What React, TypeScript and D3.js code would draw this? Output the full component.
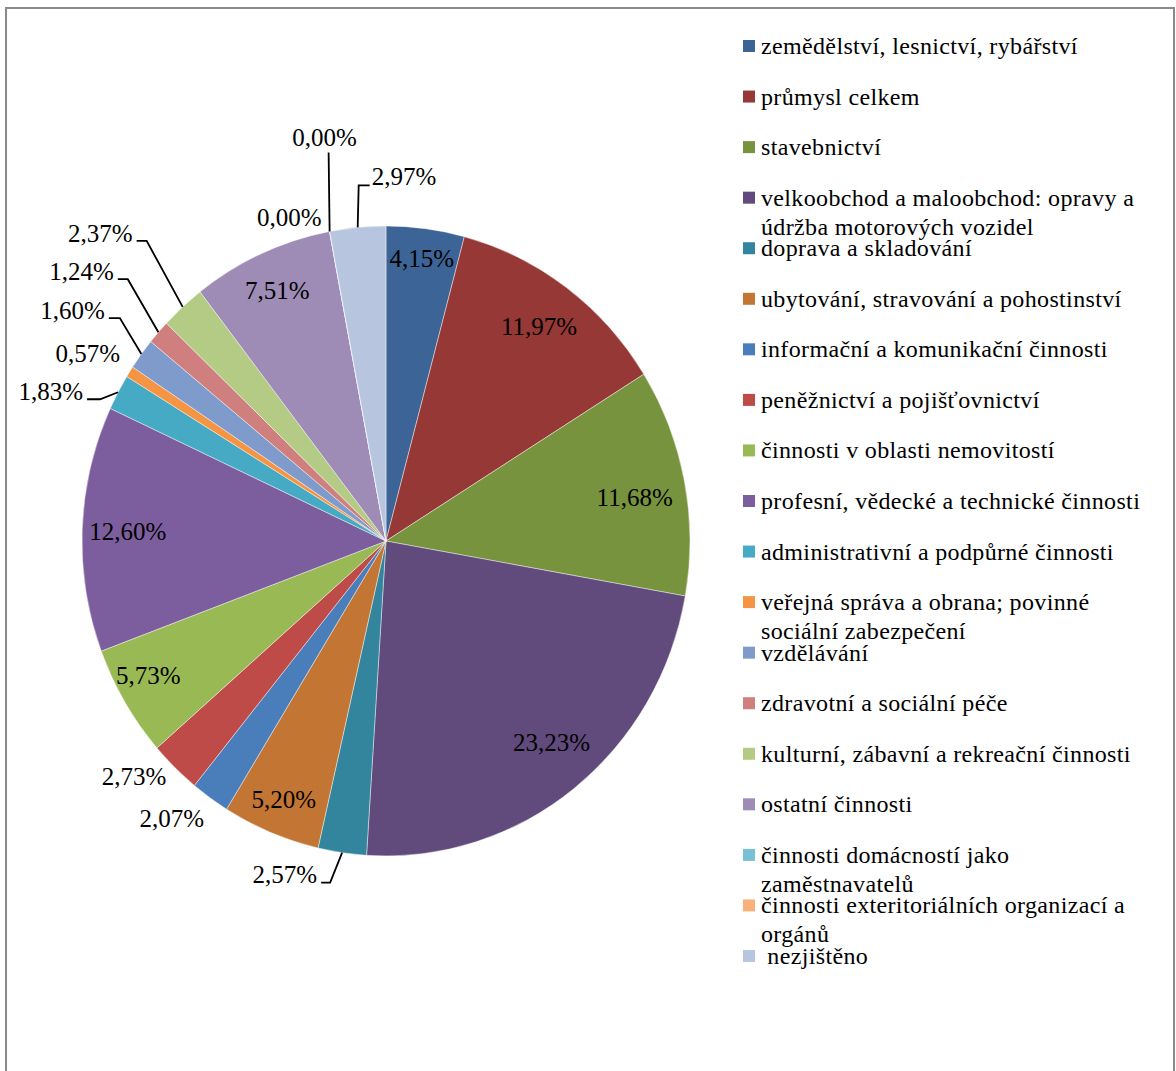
import React, {useRef, useEffect} from 'react'
import * as d3 from 'd3'

// categories, in the order the slices go round (clockwise from 12 o'clock)
const categories = [
  'zemědělství, lesnictví, rybářství',
  'průmysl celkem',
  'stavebnictví',
  'velkoobchod a maloobchod: opravy a\núdržba motorových vozidel',
  'doprava a skladování',
  'ubytování, stravování a pohostinství',
  'informační a komunikační činnosti',
  'peněžnictví a pojišťovnictví',
  'činnosti v oblasti nemovitostí',
  'profesní, vědecké a technické činnosti',
  'administrativní a podpůrné činnosti',
  'veřejná správa a obrana; povinné\nsociální zabezpečení',
  'vzdělávání',
  'zdravotní a sociální péče',
  'kulturní, zábavní a rekreační činnosti',
  'ostatní činnosti',
  'činnosti domácností jako\nzaměstnavatelů',
  'činnosti exteritoriálních organizací a\norgánů',
  ' nezjištěno',
]

// share in %
const shares = [
  4.15, 11.97, 11.68, 23.23, 2.57, 5.2, 2.07, 2.73, 5.73, 12.6, 1.83, 0.57,
  1.6, 1.24, 2.37, 7.51, 0.0, 0.0, 2.97,
]

const colors = [
  '#3c6496', '#953836', '#78933d', '#614a7c', '#32859c', '#c37533',
  '#4a7ebb', '#be4b48', '#98b954', '#7c5e9e', '#46aac5', '#f59443',
  '#7f9bcc', '#cf7f7d', '#b3cb84', '#9e8bb6', '#78c0d4', '#f9b07a',
  '#b8c5df',
]

/* where each data label sits: r = radius factor (a = angle in deg, default slice middle),
   leader = [elbow dx, elbow dy, horizontal run] measured from the slice edge */
const labelLayout: any[] = [
  {r: 0.905},
  {r: 0.847},
  {r: 0.83, a: 80.3},
  {r: 0.84, a: 139.6},
  {leader: [-12, 30, -9]},
  {r: 0.886},
  {r: 1.127, a: 218.7},
  {r: 1.115, a: 228},
  {r: 0.89, a: 241.5},
  {r: 0.85, a: 272},
  {leader: [-18, 7, -13]},
  {r: 1.148, a: 301.3},
  {leader: [-21.5, -36, -11]},
  {leader: [-30.6, -53, -10]},
  {leader: [-36, -66, -10]},
  {r: 0.873},
  {leader: [-1, -79, 0]},
  {r: 1.077, a: 342.8},
  {leader: [1, -42, 11]},
]

const fmt = (v: number) => d3.format('.2f')(v).replace('.', ',') + '%'

function App() {
  const ref: any = useRef<SVGSVGElement>(null)

  useEffect(() => {
    const svg = d3.select(ref.current)
    svg.selectAll('*').remove()

    const font = '"Liberation Serif", "Times New Roman", serif'
    const cx = 386
    const cy = 541
    const R = 315
    const sx = 0.965 // the pie is a little squeezed horizontally

    // frame
    svg
      .append('rect')
      .attr('x', 6)
      .attr('y', 8)
      .attr('width', 1168)
      .attr('height', 1100)
      .attr('fill', 'white')
      .attr('stroke', '#8a8a8a')
      .attr('stroke-width', 2)

    const pie = d3
      .pie<number>()
      .sort(null)
      .value(d => d)
    const arcs = pie(shares)
    const arc = d3.arc<any>().innerRadius(0).outerRadius(R)

    svg
      .append('g')
      .attr('transform', `translate(${cx},${cy}) scale(${sx},1)`)
      .selectAll('path')
      .data(arcs)
      .join('path')
      .attr('d', arc)
      .attr('fill', (d, i) => colors[i])
      .attr('stroke', 'rgba(255,255,255,0.55)')
      .attr('stroke-width', 0.8)

    const pt = (angle: number, r: number) => [
      cx + sx * r * Math.sin(angle),
      cy - r * Math.cos(angle),
    ]

    const labels = svg.append('g').attr('font-family', font).attr('font-size', 25)

    arcs.forEach((d, i) => {
      const lay = labelLayout[i]
      const mid = (d.startAngle + d.endAngle) / 2
      const text = fmt(shares[i])
      if (lay.leader) {
        const [ex, ey, run] = lay.leader
        const p = pt(mid, R)
        const elbow = [p[0] + ex, p[1] + ey]
        const end = [elbow[0] + run, elbow[1]]
        labels
          .append('path')
          .attr('d', d3.line()([p as any, elbow as any, end as any]))
          .attr('fill', 'none')
          .attr('stroke', 'black')
          .attr('stroke-width', 1.8)
        const t = labels.append('text').attr('dy', '0.35em').text(text)
        if (run < 0) {
          t.attr('x', end[0] - 4).attr('y', end[1] - 8).attr('text-anchor', 'end')
        } else if (run > 0) {
          t.attr('x', end[0] + 2).attr('y', end[1] - 9).attr('text-anchor', 'start')
        } else {
          t.attr('x', elbow[0] - 4).attr('y', elbow[1] - 15).attr('text-anchor', 'middle')
        }
      } else {
        const a = lay.a !== undefined ? (lay.a * Math.PI) / 180 : mid
        const [x, y] = pt(a, lay.r * R)
        labels
          .append('text')
          .attr('x', x)
          .attr('y', y)
          .attr('dy', '0.35em')
          .attr('text-anchor', 'middle')
          .text(text)
      }
    })

    // legend
    const legendY = d3
      .scaleLinear()
      .domain([0, categories.length - 1])
      .range([46, 956])
    const legend = svg
      .append('g')
      .attr('font-family', font)
      .attr('font-size', 24)
      .attr('letter-spacing', 0.35)
      .selectAll('g')
      .data(categories)
      .join('g')
      .attr('transform', (d, i) => `translate(0,${legendY(i)})`)
    legend
      .append('rect')
      .attr('x', 743)
      .attr('y', -6)
      .attr('width', 12)
      .attr('height', 12)
      .attr('fill', (d, i) => colors[i])
    legend
      .append('text')
      .attr('x', 761)
      .attr('y', 8)
      .style('white-space', 'pre')
      .selectAll('tspan')
      .data(d => d.split('\n'))
      .join('tspan')
      .attr('x', 761)
      .attr('dy', (d, j) => (j === 0 ? 0 : 29))
      .text(d => d)
  }, [])

  return (
    <svg
      ref={ref}
      width={1176}
      height={1071}
      style={{position: 'absolute', left: 0, top: 0}}
    />
  )
}

export default App
